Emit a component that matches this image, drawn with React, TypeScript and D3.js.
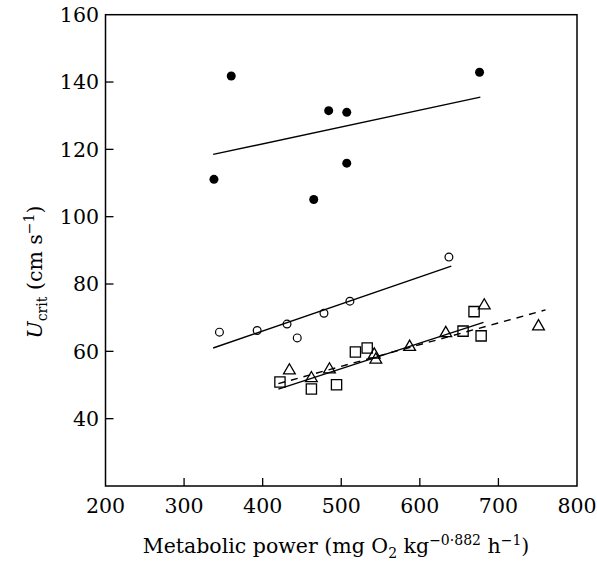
import React from 'react';
import * as d3 from 'd3';

// filled circles
const filledX = [338, 360, 465, 484, 507, 507, 676];
const filledY = [111.1, 141.8, 105.1, 131.5, 131, 115.9, 142.9];

// open circles
const openX = [345, 393, 431, 444, 478, 511, 637];
const openY = [65.7, 66.2, 68.1, 64.0, 71.3, 74.9, 88.0];

// squares
const squareX = [422, 462, 494, 518, 533, 655, 669, 678];
const squareY = [50.9, 48.8, 50.1, 59.8, 61.0, 66.0, 71.8, 64.6];

// triangles
const triX = [434, 462, 485, 542, 544, 587, 633, 682, 751];
const triY = [54.3, 52.0, 54.6, 59.0, 57.5, 61.3, 65.4, 73.6, 67.4];

// fitted lines
const topLineX = [337, 677];
const topLineY = [118.5, 135.5];
const midLineX = [337, 640];
const midLineY = [61.0, 85.3];
const squareLineX = [420, 681];
const squareLineY = [48.8, 68.6];
const triLineX = [420, 760];
const triLineY = [50.4, 72.3];

const xTicks = [200, 300, 400, 500, 600, 700, 800];
const yTicks = [40, 60, 80, 100, 120, 140, 160];

const font = '"DejaVu Serif", serif';

const zip = (xs: number[], ys: number[]) => xs.map((x, i) => [x, ys[i]] as [number, number]);

export default function App() {
	const x = d3.scaleLinear().domain([200, 800]).range([105.5, 577]);
	const y = d3.scaleLinear().domain([20, 160]).range([486, 14.7]);

	const line = d3.line<[number, number]>()
		.x(d => x(d[0]))
		.y(d => y(d[1]));

	const square = d3.symbol(d3.symbolSquare, 105)();
	const triangle = d3.symbol(d3.symbolTriangle, 60)();

	const [x0, x1] = x.range();
	const [y0, y1] = y.range();

	return (
		<svg width={597} height={564}
			style={{ position: 'absolute', left: 0, top: 0, background: '#fff' }}
			fontFamily={font}>
			<rect x={x0} y={y1} width={x1 - x0} height={y0 - y1}
				fill="none" stroke="#000" strokeWidth={1.5} />

			{xTicks.map(t => (
				<g key={`x${t}`}>
					{t > 200 && t < 800 &&
						<line x1={x(t)} x2={x(t)} y1={y0} y2={y0 - 8} stroke="#000" strokeWidth={1.3} />}
					<text x={x(t)} y={513} textAnchor="middle" fontSize={20.5}>{t}</text>
				</g>
			))}

			{yTicks.map(t => (
				<g key={`y${t}`}>
					{t < 160 &&
						<line x1={x0} x2={x0 + 8} y1={y(t)} y2={y(t)} stroke="#000" strokeWidth={1.3} />}
					<text x={99} y={y(t)} dy="0.36em" textAnchor="end" fontSize={20.5}>{t}</text>
				</g>
			))}

			<g fill="none" stroke="#000" strokeWidth={1.4}>
				<path d={line(zip(topLineX, topLineY)) || ''} />
				<path d={line(zip(midLineX, midLineY)) || ''} />
				<path d={line(zip(squareLineX, squareLineY)) || ''} />
				<path d={line(zip(triLineX, triLineY)) || ''} strokeDasharray="7,6" />
			</g>

			{zip(filledX, filledY).map((d, i) => (
				<circle key={`f${i}`} cx={x(d[0])} cy={y(d[1])} r={4.5} fill="#000" />
			))}
			{zip(openX, openY).map((d, i) => (
				<circle key={`o${i}`} cx={x(d[0])} cy={y(d[1])} r={3.9} fill="none" stroke="#000" strokeWidth={1.2} />
			))}
			{zip(squareX, squareY).map((d, i) => (
				<path key={`s${i}`} d={square || ''} transform={`translate(${x(d[0])},${y(d[1])})`}
					fill="none" stroke="#000" strokeWidth={1.3} />
			))}
			{zip(triX, triY).map((d, i) => (
				<path key={`t${i}`} d={triangle || ''} transform={`translate(${x(d[0])},${y(d[1])})`}
					fill="none" stroke="#000" strokeWidth={1.3} />
			))}

			<text x={336} y={553} textAnchor="middle" fontSize={20.5}>
				Metabolic power (mg O
				<tspan dy={5} fontSize={14}>2</tspan>
				<tspan dy={-5}> kg</tspan>
				<tspan dy={-8} fontSize={14}>−0·882</tspan>
				<tspan dy={8}> h</tspan>
				<tspan dy={-8} fontSize={14}>−1</tspan>
				<tspan dy={8}>)</tspan>
			</text>

			<text transform="translate(42,272)rotate(-90)" textAnchor="middle" fontSize={20.5}>
				<tspan fontStyle="italic">U</tspan>
				<tspan dy={5} fontSize={14}>crit</tspan>
				<tspan dy={-5}> (cm s</tspan>
				<tspan dy={-8} fontSize={14}>−1</tspan>
				<tspan dy={8}>)</tspan>
			</text>
		</svg>
	);
}
